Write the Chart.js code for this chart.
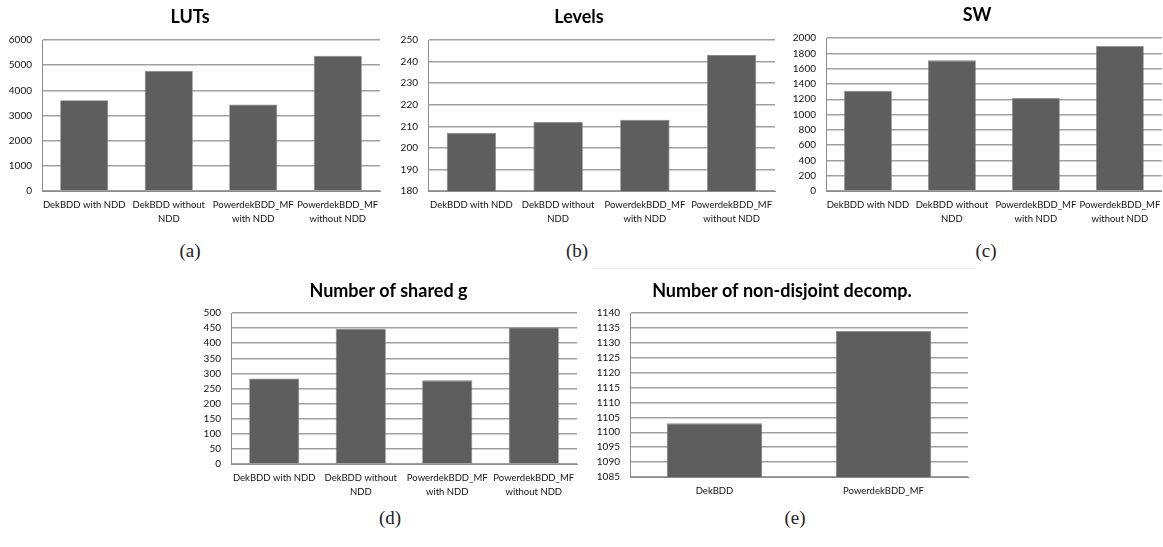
<!DOCTYPE html>
<html>
<head>
<meta charset="utf-8">
<script src="https://cdn.jsdelivr.net/npm/chart.js@4"></script>
<style>
  html, body { margin: 0; padding: 0; background: #fff; overflow: hidden; }
  body { width: 1163px; height: 547px; position: relative; }
  .box { position: absolute; }
  .cap { position: absolute; font-family: "Liberation Serif", serif; font-size: 19px; color: #222; transform: translate(-50%, -50%); }
  .sep { position: absolute; left: 592px; top: 268px; width: 383px; border-top: 1px solid #ececec; }
</style>
</head>
<body>
<div class="box" style="left:0px;top:0px;width:394px;height:230px"><canvas id="cA"></canvas></div>
<div class="box" style="left:383px;top:0px;width:412px;height:230px"><canvas id="cB"></canvas></div>
<div class="box" style="left:792px;top:0px;width:376px;height:230px"><canvas id="cC"></canvas></div>
<div class="box" style="left:200px;top:272px;width:386px;height:232px"><canvas id="cD"></canvas></div>
<div class="box" style="left:596px;top:272px;width:377px;height:235px"><canvas id="cE"></canvas></div>
<div class="sep"></div>
<div class="cap" style="left:190px;top:251px">(a)</div>
<div class="cap" style="left:577px;top:251px">(b)</div>
<div class="cap" style="left:986px;top:251px">(c)</div>
<div class="cap" style="left:390px;top:518px">(d)</div>
<div class="cap" style="left:795px;top:518px">(e)</div>
<script>
// categories
const tools4 = ["DekBDD with NDD", ["DekBDD without", "NDD"], ["PowerdekBDD_MF", "with NDD"], ["PowerdekBDD_MF", "without NDD"]];
const tools2 = ["DekBDD", "PowerdekBDD_MF"];

// values
const luts = [3610, 4780, 3440, 5375];
const levels = [207, 212, 213, 243];
const sw = [1310, 1708, 1216, 1895];
const sharedG = [283, 448, 277, 452];
const nonDisjoint = [1103, 1134];

// y axis ranges: [min, max, step]
const lutsTicks = [0, 6000, 1000];
const levelsTicks = [180, 250, 10];
const swTicks = [0, 2000, 200];
const sharedTicks = [0, 500, 50];
const nonDisjTicks = [1085, 1140, 5];

const FONT = "Lato, 'Open Sans', sans-serif";

function makeChart(id, title, labels, values, ticks, lay) {
    const config = {
        type: 'bar',
        data: {
            labels: labels,
            datasets: [{
                data: values,
                backgroundColor: '#5e5e5e',
                borderColor: '#8a8a8a',
                borderWidth: 0.8,
                categoryPercentage: 1,
                barPercentage: lay.bar
            }]
        },
        options: {
            responsive: true,
            maintainAspectRatio: false,
            animation: false,
            layout: { padding: { left: 0, right: lay.padR, top: 0, bottom: 0 } },
            plugins: {
                legend: { display: false },
                tooltip: { enabled: false },
                title: {
                    display: true,
                    text: title,
                    color: '#000',
                    font: { family: FONT, size: 18, weight: 'bold', lineHeight: 1.2 },
                    padding: { top: lay.tTop, bottom: lay.tBot }
                }
            },
            scales: {
                x: {
                    grid: { display: false, drawTicks: false },
                    border: { display: true, color: '#8c8c8c', width: 1 },
                    ticks: { color: '#111', font: { family: FONT, size: 9.5, lineHeight: 1.5 }, padding: 7, maxRotation: 0, autoSkip: false },
                    afterFit: s => { s.height = lay.xH; }
                },
                y: {
                    min: ticks[0],
                    max: ticks[1],
                    grid: { color: '#a0a0a0', lineWidth: 1.4, drawTicks: false },
                    border: { display: true, color: '#8c8c8c', width: 1 },
                    ticks: {
                        stepSize: ticks[2],
                        autoSkip: false,
                        color: '#111',
                        font: { family: FONT, size: 10 },
                        padding: 10,
                        callback: v => String(v)
                    },
                    afterFit: s => { s.width = lay.yW; }
                }
            }
        }
    };
    return new Chart(document.getElementById(id), config);
}

makeChart('cA', 'LUTs', tools4, luts, lutsTicks,
    { bar: 0.57, padR: 14, yW: 42, xH: 39, tTop: 6, tBot: 12.4 });
makeChart('cB', 'Levels', tools4, levels, levelsTicks,
    { bar: 0.57, padR: 20, yW: 45, xH: 39, tTop: 6, tBot: 12.4 });
makeChart('cC', 'SW', tools4, sw, swTicks,
    { bar: 0.57, padR: 6, yW: 34, xH: 39, tTop: 4, tBot: 12.4 });
makeChart('cD', 'Number of shared g', tools4, sharedG, sharedTicks,
    { bar: 0.58, padR: 9, yW: 31, xH: 40, tTop: 8, tBot: 11.4 });
makeChart('cE', 'Number of non-disjoint decomp.', tools2, nonDisjoint, nonDisjTicks,
    { bar: 0.566, padR: 5, yW: 34, xH: 30, tTop: 8, tBot: 11.4 });
</script>
</body>
</html>
